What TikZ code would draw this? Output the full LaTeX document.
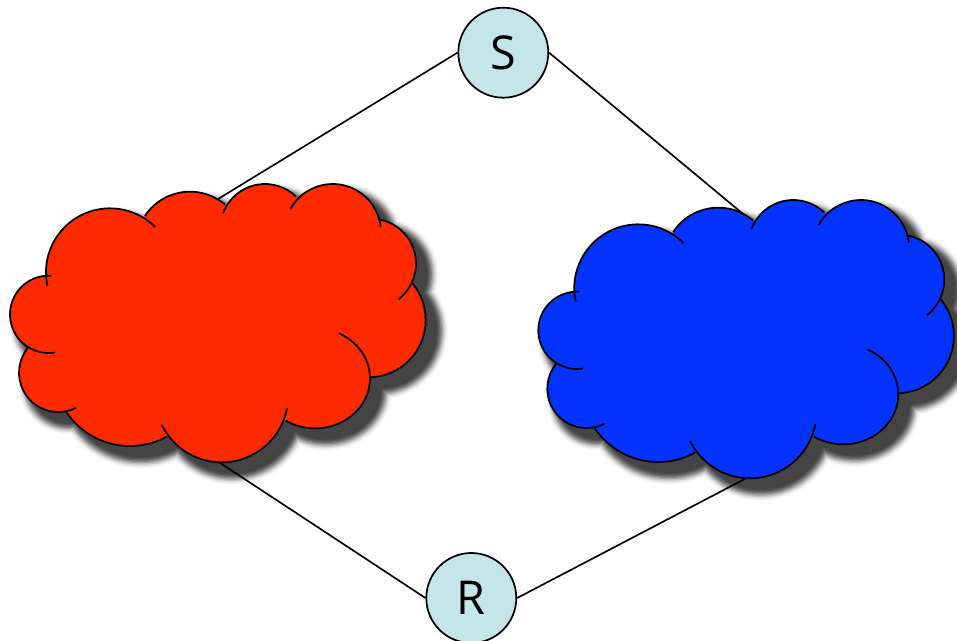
\documentclass[tikz,border=0pt]{standalone}
\usepackage{fontspec}
\setmainfont{Open Sans}
\definecolor{cloudred}{HTML}{FF2A00}
\definecolor{cloudblue}{HTML}{0433FF}
\definecolor{hostfill}{HTML}{C5E6E8}
\definecolor{shadowc}{HTML}{444444}
\tikzset{
  host/.style={circle,draw=black,line width=1.3pt,fill=hostfill,minimum size=67.5pt,inner sep=0pt,font=\fontsize{35}{40}\selectfont},
  link/.style={draw=black,line width=1.25pt},
  outline/.style={draw=black,line width=1.3pt,line cap=butt}
}
% every bump of the cloud, filled (coordinates in units of 1/3 px)
\newcommand{\cloudbody}[1]{%
  \path[#1] (330,-307) -- (570,-227) -- (795,-176) -- (998,-187) -- (1113,-281) -- (1105,-450) -- (945,-625) -- (665,-677) -- (390,-598) -- (175,-608) -- (146,-433) -- cycle;
  \path[#1] (330,-307) circle[radius=192];
  \path[#1] (570,-227) circle[radius=162];
  \path[#1] (795,-176) circle[radius=134];
  \path[#1] (998,-187) circle[radius=145];
  \path[#1] (1113,-281) circle[radius=135];
  \path[#1] (1105,-450) circle[radius=172];
  \path[#1] (945,-625) circle[x radius=165,y radius=150];
  \path[#1] (665,-677.5) circle[radius=199.5];
  \path[#1] (390,-598) circle[radius=230];
  \path[#1] (175,-608) circle[radius=118];
  \path[#1] (146,-433) circle[radius=116];
}
\newcommand{\bump}[5]{\draw[outline] ([shift={(#1,-#2)}]#4:#3) arc[start angle=#4,end angle=#5,radius=#3];}
\newcommand{\cloudlines}{%
  \bump{330}{307}{192}{192.4}{44.8}
  \bump{570}{227}{162}{146.6}{49.7}
  \bump{795}{176}{134}{160}{45.9}
  \bump{998}{187}{145}{151.3}{6.8}
  \bump{1113}{281}{135}{80.6}{-52.4}
  \bump{1105}{450}{172}{39.6}{-89}
  \draw[outline] (945,-625) ++(64.5:165 and 150) arc[start angle=64.5,end angle=-122,x radius=165,y radius=150];
  \bump{665}{677.5}{199.5}{-10.9}{-154}
  \bump{390}{598}{230}{-61.4}{-146.5}
  \bump{175}{608}{118}{-63}{-220}
  \bump{146}{433}{116}{-80.7}{-273.5}
}
\newcommand{\cloudshadow}{%
  \begin{scope}[shift={(32,-32)}]
    \foreach \d/\c in {36/3,32/9,28/18,24/32,20/48,16/64,12/78,8/90,4/97,1/100}{
      \cloudbody{fill=shadowc!\c!white,draw=shadowc!\c!white,line width=0.5*\d pt,line join=round}
    }
  \end{scope}
}
\begin{document}
\begin{tikzpicture}[x=.75pt,y=.75pt]
\useasboundingbox (0,0) rectangle (957,-641);
\begin{scope}[shift={(0pt,-127.5pt)},x=.25pt,y=.25pt]
  \cloudshadow
\end{scope}
\begin{scope}[shift={(396.2pt,-139.5pt)},x=.25pt,y=.25pt]
  \cloudshadow
\end{scope}
\node[host] (S) at (503.3,-52.7) {S};
\node[host] (R) at (471.3,-598) {R};
\coordinate (redtop) at (205,-207);
\coordinate (redbot) at (205,-453);
\coordinate (bluetop) at (760,-228);
\coordinate (bluebot) at (760,-471);
\draw[link] (S.west) -- (redtop);
\draw[link] (S.east) -- (bluetop);
\draw[link] (R.west) -- (redbot);
\draw[link] (R.east) -- (bluebot);
\begin{scope}[shift={(0pt,-127.5pt)},x=.25pt,y=.25pt]
  \cloudbody{fill=cloudred}
  \cloudlines
\end{scope}
\begin{scope}[shift={(396.2pt,-139.5pt)},x=.25pt,y=.25pt]
  \cloudbody{fill=cloudblue}
  \cloudlines
\end{scope}
\end{tikzpicture}
\end{document}
